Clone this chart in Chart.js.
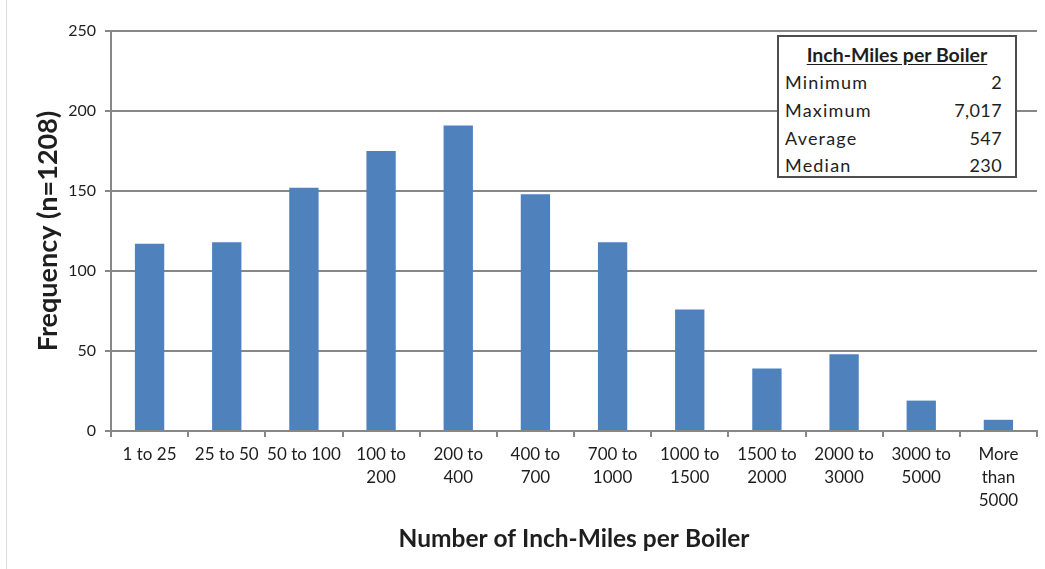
<!DOCTYPE html>
<html>
<head>
<meta charset="utf-8">
<title>Inch-Miles per Boiler</title>
<script src="https://cdn.jsdelivr.net/npm/chart.js@4"></script>
<style>
  html, body { margin: 0; padding: 0; background: #ffffff; }
  #wrap { position: relative; width: 1045px; height: 569px; overflow: hidden; }
  #frame { position: absolute; left: 6px; top: 0; width: 1px; height: 569px; background: #dcdcdc; }
  #stats {
    position: absolute; left: 777px; top: 35px; width: 236px; height: 139px;
    border: 2px solid #4d4d4d; background: #ffffff;
    font-family: Lato, "Open Sans", sans-serif; color: #1e1e1e;
  }
  #stats .head {
    position: absolute; left: 0; right: 0; top: 6px; text-align: center;
    font-weight: bold; font-size: 19.5px; text-decoration: underline; text-underline-offset: 2px;
  }
  #stats .row { position: absolute; left: 6px; right: 13px; font-size: 18px; letter-spacing: 1.2px; line-height: 20px; }
  #stats .row .v { position: absolute; right: 0; top: 0; letter-spacing: 0.4px; }
</style>
</head>
<body>
<div id="wrap">
  <div id="frame"></div>
  <canvas id="chart" width="1045" height="569"></canvas>
  <div id="stats"></div>
</div>
<script>
// Histogram bins (multi-line tick labels) and boiler counts per bin
const categories = [
  ['1 to 25'], ['25 to 50'], ['50 to 100'], ['100 to', '200'], ['200 to', '400'],
  ['400 to', '700'], ['700 to', '1000'], ['1000 to', '1500'], ['1500 to', '2000'],
  ['2000 to', '3000'], ['3000 to', '5000'], ['More', 'than', '5000']
];
const frequency = [117, 118, 152, 175, 191, 148, 118, 76, 39, 48, 19, 7];
const yTicks = [0, 50, 100, 150, 200, 250];

// Summary statistics box
const statsTitle = 'Inch-Miles per Boiler';
const statLabels = ['Minimum', 'Maximum', 'Average', 'Median'];
const statValues = ['2', '7,017', '547', '230'];

const box = document.getElementById('stats');
const head = document.createElement('div');
head.className = 'head';
head.textContent = statsTitle;
box.appendChild(head);
const rowTops = [35, 63, 91, 118];
statLabels.forEach((lab, i) => {
  const r = document.createElement('div');
  r.className = 'row';
  r.style.top = rowTops[i] + 'px';
  r.textContent = lab;
  const v = document.createElement('span');
  v.className = 'v';
  v.textContent = statValues[i];
  r.appendChild(v);
  box.appendChild(r);
});

const axisGray = '#878787';
const textColor = '#1e1e1e';
const fontFamily = 'Lato, "Open Sans", sans-serif';

new Chart(document.getElementById('chart'), {
  type: 'bar',
  data: {
    labels: categories,
    datasets: [{
      label: 'Frequency',
      data: frequency,
      backgroundColor: '#4f81bd',
      borderWidth: 0,
      barPercentage: 0.38,
      categoryPercentage: 1.0
    }]
  },
  options: {
    responsive: false,
    animation: false,
    layout: { padding: { top: 31, right: 8, bottom: 0, left: 0 } },
    plugins: { legend: { display: false }, tooltip: { enabled: false }, title: { display: false } },
    scales: {
      x: {
        offset: true,
        grid: { display: true, drawOnChartArea: false, drawTicks: true, tickLength: 6, color: axisGray, lineWidth: 2, offset: true },
        border: { display: true, color: axisGray, width: 2 },
        ticks: {
          color: textColor, padding: 6, maxRotation: 0, autoSkip: false,
          font: { family: fontFamily, size: 17, lineHeight: 1.36 }
        },
        title: {
          display: true, text: 'Number of Inch-Miles per Boiler', color: textColor,
          font: { family: fontFamily, size: 24.5, weight: 'bold' }, padding: { top: 0, bottom: 15 }
        },
        afterFit: (scale) => { scale.height = 138; }
      },
      y: {
        min: 0, max: 250,
        afterBuildTicks: (scale) => { scale.ticks = yTicks.map(v => ({ value: v })); },
        grid: { color: axisGray, lineWidth: 2, tickLength: 6, drawTicks: true },
        border: { display: true, color: axisGray, width: 2 },
        ticks: { color: textColor, padding: 9, font: { family: fontFamily, size: 16 } },
        title: {
          display: true, text: 'Frequency (n=1208)', color: textColor,
          font: { family: fontFamily, size: 27, weight: 'bold' }, padding: { top: 32, bottom: 0 }
        },
        afterFit: (scale) => { scale.width = 111; }
      }
    }
  }
});
</script>
</body>
</html>
